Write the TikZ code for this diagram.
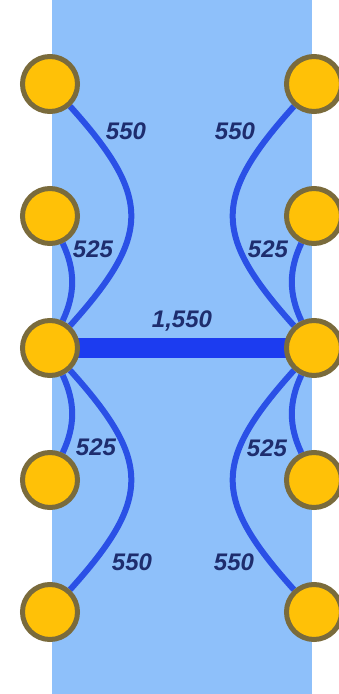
\documentclass[tikz,border=0pt]{standalone}
\usepackage{fontspec}
\setmainfont{Liberation Sans}
\definecolor{bgblue}{HTML}{8EC0FA}
\definecolor{gold}{HTML}{FFC107}
\definecolor{olive}{HTML}{7A6B3C}
\definecolor{edgeblue}{HTML}{2A50E6}
\definecolor{thickblue}{HTML}{1C3CF0}
\definecolor{navy}{HTML}{1E2D6E}
\pgfdeclarelayer{bg}
\pgfdeclarelayer{edges}
\pgfsetlayers{bg,edges,main}
\begin{document}
\begin{tikzpicture}[x=1pt,y=1pt,
  site/.style={circle,fill=gold,draw=olive,line width=5pt,minimum size=55pt,inner sep=0pt},
  link/.style={draw=edgeblue,line width=6pt},
  trunk/.style={draw=thickblue,line width=20pt},
  lbl/.style={text=navy,font=\fontsize{24}{24}\selectfont\bfseries\itshape,inner sep=0pt}]
\useasboundingbox (0,0) rectangle (338,694);
\begin{pgfonlayer}{bg}
\fill[white] (0,0) rectangle (338,694);
\fill[bgblue] (52,0) rectangle (312,694);
\end{pgfonlayer}
% nodes
\node[site] (L1) at (50,610) {};
\node[site] (L2) at (50,478) {};
\node[site] (L3) at (50,346) {};
\node[site] (L4) at (50,214) {};
\node[site] (L5) at (50,82) {};
\node[site] (R1) at (314,610) {};
\node[site] (R2) at (314,478) {};
\node[site] (R3) at (314,346) {};
\node[site] (R4) at (314,214) {};
\node[site] (R5) at (314,82) {};
\begin{pgfonlayer}{edges}
\draw[trunk] (L3.center) -- (R3.center);
\draw[link] (L1) to[out=-48,in=48,distance=122pt] (L3);
\draw[link] (L2) to[out=-65,in=65,distance=30pt] (L3);
\draw[link] (L3) to[out=-65,in=65,distance=30pt] (L4);
\draw[link] (L3) to[out=-48,in=48,distance=122pt] (L5);
\draw[link] (R1) to[out=-132,in=132,distance=122pt] (R3);
\draw[link] (R2) to[out=-115,in=115,distance=30pt] (R3);
\draw[link] (R3) to[out=-115,in=115,distance=30pt] (R4);
\draw[link] (R3) to[out=-132,in=132,distance=122pt] (R5);
\end{pgfonlayer}
% labels
\node[lbl] (t1) at (126,563) {550};
\node[lbl] (t2) at (93,445) {525};
\node[lbl] (t3) at (182,373) {1,550};
\node[lbl] (t4) at (235,563) {550};
\node[lbl] (t5) at (268,445) {525};
\node[lbl] (t6) at (96,247) {525};
\node[lbl] (t7) at (132,132) {550};
\node[lbl] (t8) at (267,246) {525};
\node[lbl] (t9) at (234,132) {550};
\end{tikzpicture}
\end{document}
